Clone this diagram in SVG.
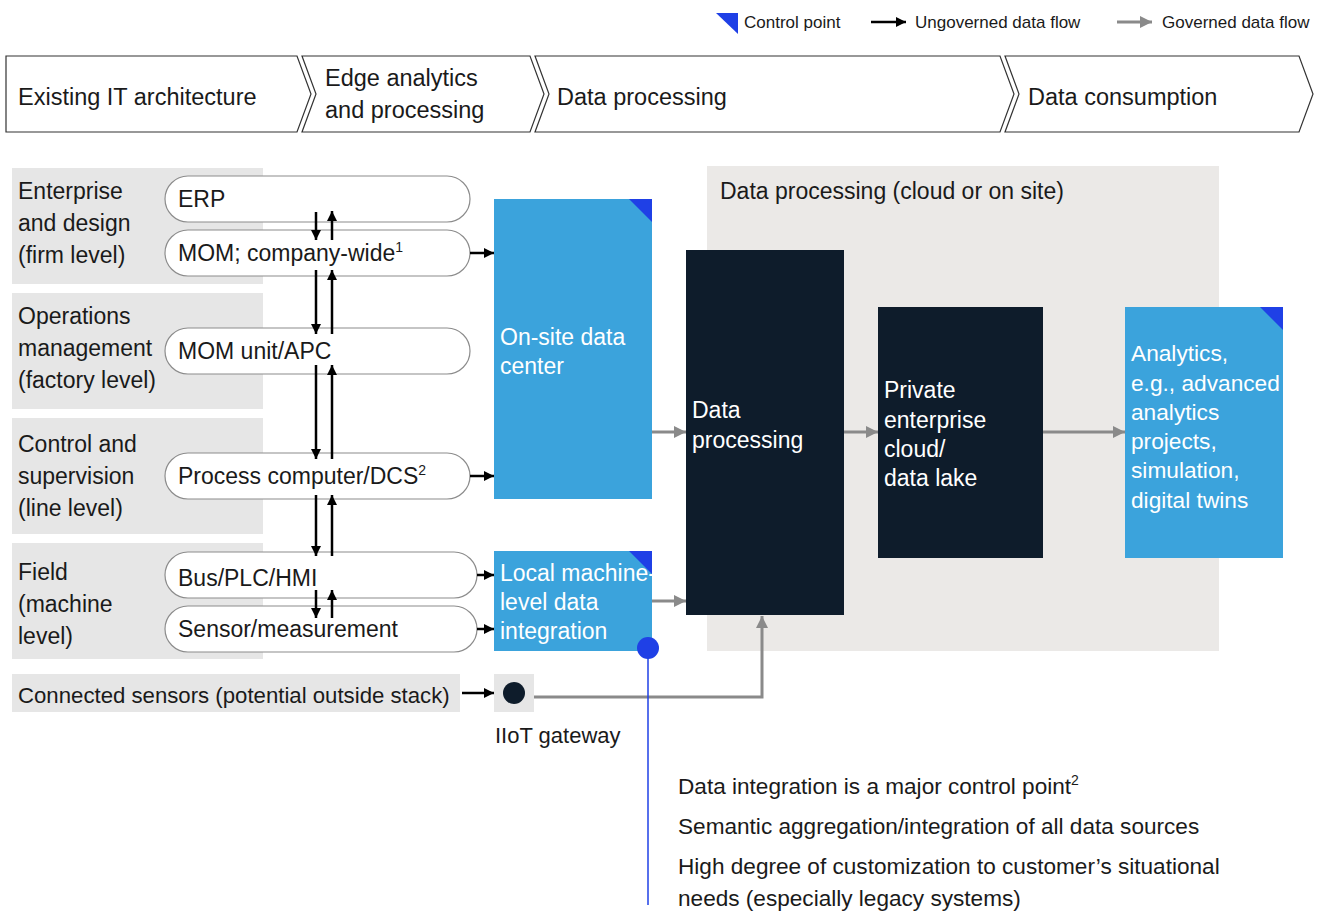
<svg xmlns="http://www.w3.org/2000/svg" width="1328" height="911" viewBox="0 0 1328 911">
  <style>
    text { font-family: "Liberation Sans", Arial, sans-serif; font-size: 23px; fill: #1a1a1a; }
    .lg { font-size: 17px; }
    .hd { font-size: 23.5px; }
    .nt { font-size: 22.6px; }
    .w { fill: #ffffff; }
    .band { fill: #e6e6e6; }
    .pill { fill: #ffffff; stroke: #8c8c8c; stroke-width: 1.2; }
    .chev { fill: #ffffff; stroke: #333333; stroke-width: 1.2; }
    .blue { fill: #3ba3dc; }
    .dark { fill: #0e1c2b; }
    .cp { fill: #1f40e6; }
    .ub { stroke: #000000; stroke-width: 2.5; fill: none; marker-end: url(#ah-black); }
    .gv { stroke: #8a8a8a; stroke-width: 3; fill: none; marker-end: url(#ah-gray); }
    .sup { font-size: 14px; }
  </style>
  <defs>
    <marker id="ah-black" viewBox="0 0 10 10" refX="10" refY="5" markerWidth="10" markerHeight="10" markerUnits="userSpaceOnUse" orient="auto">
      <path d="M0,0 L10,5 L0,10 Z" fill="#000000"/>
    </marker>
    <marker id="ah-gray" viewBox="0 0 12 12" refX="12" refY="6" markerWidth="12" markerHeight="12" markerUnits="userSpaceOnUse" orient="auto">
      <path d="M0,0 L12,6 L0,12 Z" fill="#8a8a8a"/>
    </marker>
  </defs>

  <rect width="1328" height="911" fill="#ffffff"/>

  <!-- legend -->
  <g id="legend">
    <path class="cp" d="M716,13 H738 V34 Z"/>
    <text class="lg" x="744" y="28">Control point</text>
    <line class="ub" x1="871" y1="22" x2="906" y2="22"/>
    <text class="lg" x="915" y="28">Ungoverned data flow</text>
    <line class="gv" x1="1117" y1="22" x2="1152" y2="22"/>
    <text class="lg" x="1162" y="28">Governed data flow</text>
  </g>

  <!-- stage header -->
  <g id="stage-existing-it">
    <path class="chev" d="M6,56 H297 L311,94 L297,132 H6 Z"/>
    <text class="hd" x="18" y="105">Existing IT architecture</text>
  </g>
  <g id="stage-edge">
    <path class="chev" d="M302,56 H530 L544,94 L530,132 H302 L316,94 Z"/>
    <text class="hd" x="325" y="86">Edge analytics</text>
    <text class="hd" x="325" y="118">and processing</text>
  </g>
  <g id="stage-processing">
    <path class="chev" d="M535,56 H1000 L1014,94 L1000,132 H535 L549,94 Z"/>
    <text class="hd" x="557" y="105">Data processing</text>
  </g>
  <g id="stage-consumption">
    <path class="chev" d="M1005,56 H1299 L1313,94 L1299,132 H1005 L1019,94 Z"/>
    <text class="hd" x="1028" y="105">Data consumption</text>
  </g>

  <!-- level bands -->
  <g id="level-enterprise">
    <rect class="band" x="12" y="168" width="251" height="116"/>
    <text x="18" y="199">Enterprise</text>
    <text x="18" y="231">and design</text>
    <text x="18" y="263">(firm level)</text>
  </g>
  <g id="level-operations">
    <rect class="band" x="12" y="293" width="251" height="116"/>
    <text x="18" y="324">Operations</text>
    <text x="18" y="356">management</text>
    <text x="18" y="388">(factory level)</text>
  </g>
  <g id="level-control">
    <rect class="band" x="12" y="418" width="251" height="116"/>
    <text x="18" y="452">Control and</text>
    <text x="18" y="484">supervision</text>
    <text x="18" y="516">(line level)</text>
  </g>
  <g id="level-field">
    <rect class="band" x="12" y="543" width="251" height="116"/>
    <text x="18" y="580">Field</text>
    <text x="18" y="612">(machine</text>
    <text x="18" y="644">level)</text>
  </g>

  <!-- systems -->
  <g id="erp">
    <rect class="pill" x="165" y="176" width="305" height="46" rx="23"/>
    <text x="178" y="207">ERP</text>
  </g>
  <g id="mom-company">
    <rect class="pill" x="165" y="230" width="305" height="46" rx="23"/>
    <text x="178" y="261">MOM; company-wide<tspan class="sup" dy="-9">1</tspan></text>
  </g>
  <g id="mom-unit">
    <rect class="pill" x="165" y="328" width="305" height="46" rx="23"/>
    <text x="178" y="359">MOM unit/APC</text>
  </g>
  <g id="process-computer">
    <rect class="pill" x="165" y="453" width="305" height="46" rx="23"/>
    <text x="178" y="484">Process computer/DCS<tspan class="sup" dy="-9">2</tspan></text>
  </g>
  <g id="bus-plc">
    <rect class="pill" x="165" y="552" width="312" height="46" rx="23"/>
    <text x="178" y="586">Bus/PLC/HMI</text>
  </g>
  <g id="sensor">
    <rect class="pill" x="165" y="606" width="312" height="46" rx="23"/>
    <text x="178" y="637">Sensor/measurement</text>
  </g>

  <g id="connected-sensors">
    <rect class="band" x="12" y="674" width="448" height="38"/>
    <text x="18" y="703" style="font-size:22.2px">Connected sensors (potential outside stack)</text>
  </g>
  <g id="iiot-gateway">
    <rect class="band" x="494" y="674" width="40" height="38"/>
    <circle class="dark" cx="514" cy="693" r="11"/>
    <text x="495" y="743" style="font-size:22px">IIoT gateway</text>
  </g>

  <!-- edge -->
  <g id="onsite-dc">
    <rect class="blue" x="494" y="199" width="158" height="300"/>
    <path class="cp" d="M629,199 H652 V222 Z"/>
    <text class="w" x="500" y="345">On-site data</text>
    <text class="w" x="500" y="374">center</text>
  </g>
  <g id="local-integration">
    <rect class="blue" x="494" y="551" width="158" height="100"/>
    <path class="cp" d="M629,551 H652 V574 Z"/>
    <text class="w" x="500" y="581">Local machine-</text>
    <text class="w" x="500" y="610">level data</text>
    <text class="w" x="500" y="639">integration</text>
  </g>

  <!-- processing -->
  <g id="processing-area">
    <rect x="707" y="166" width="512" height="485" fill="#ebe9e7"/>
    <text x="720" y="199">Data processing (cloud or on site)</text>
  </g>
  <g id="data-processing">
    <rect class="dark" x="686" y="250" width="158" height="365"/>
    <text class="w" x="692" y="418">Data</text>
    <text class="w" x="692" y="448">processing</text>
  </g>
  <g id="private-cloud">
    <rect class="dark" x="878" y="307" width="165" height="251"/>
    <text class="w" x="884" y="398">Private</text>
    <text class="w" x="884" y="428">enterprise</text>
    <text class="w" x="884" y="457">cloud/</text>
    <text class="w" x="884" y="486">data lake</text>
  </g>
  <g id="analytics" style="font-size:22.7px">
    <rect class="blue" x="1125" y="307" width="158" height="251"/>
    <path class="cp" d="M1260,307 H1283 V330 Z"/>
    <text class="w" x="1131" y="361" style="font-size:22.7px">Analytics,</text>
    <text class="w" x="1131" y="391" style="font-size:22.7px">e.g., advanced</text>
    <text class="w" x="1131" y="420" style="font-size:22.7px">analytics</text>
    <text class="w" x="1131" y="449" style="font-size:22.7px">projects,</text>
    <text class="w" x="1131" y="478" style="font-size:22.7px">simulation,</text>
    <text class="w" x="1131" y="508" style="font-size:22.7px">digital twins</text>
  </g>

  <!-- connectors -->
  <g id="connectors">
    <!-- vertical exchange between levels -->
    <line class="ub" x1="316" y1="212" x2="316" y2="240"/>
    <line class="ub" x1="332" y1="240" x2="332" y2="211"/>
    <line class="ub" x1="316" y1="270" x2="316" y2="334"/>
    <line class="ub" x1="332" y1="334" x2="332" y2="270"/>
    <line class="ub" x1="316" y1="365" x2="316" y2="459"/>
    <line class="ub" x1="332" y1="459" x2="332" y2="365"/>
    <line class="ub" x1="316" y1="495" x2="316" y2="556"/>
    <line class="ub" x1="332" y1="556" x2="332" y2="495"/>
    <line class="ub" x1="316" y1="590" x2="316" y2="618"/>
    <line class="ub" x1="332" y1="618" x2="332" y2="590"/>
    <!-- systems to edge -->
    <line class="ub" x1="470" y1="253" x2="494" y2="253"/>
    <line class="ub" x1="470" y1="476" x2="494" y2="476"/>
    <line class="ub" x1="477" y1="575" x2="494" y2="575"/>
    <line class="ub" x1="477" y1="629" x2="494" y2="629"/>
    <line class="ub" x1="462" y1="693" x2="494" y2="693"/>
    <!-- governed flows -->
    <line class="gv" x1="652" y1="432" x2="686" y2="432"/>
    <line class="gv" x1="652" y1="601" x2="686" y2="601"/>
    <line class="gv" x1="844" y1="432" x2="878" y2="432"/>
    <line class="gv" x1="1043" y1="432" x2="1125" y2="432"/>
    <path class="gv" d="M534,697 H762 V616"/>
    <!-- control point callout -->
    <line x1="648" y1="648" x2="648" y2="905" stroke="#1f40e6" stroke-width="1.5"/>
    <circle class="cp" cx="648" cy="648" r="11"/>
  </g>

  <g id="control-point-notes">
    <text class="nt" x="678" y="794">Data integration is a major control point<tspan class="sup" dy="-9">2</tspan></text>
    <text class="nt" x="678" y="834">Semantic aggregation/integration of all data sources</text>
    <text class="nt" x="678" y="874">High degree of customization to customer’s situational</text>
    <text class="nt" x="678" y="906">needs (especially legacy systems)</text>
  </g>
</svg>
